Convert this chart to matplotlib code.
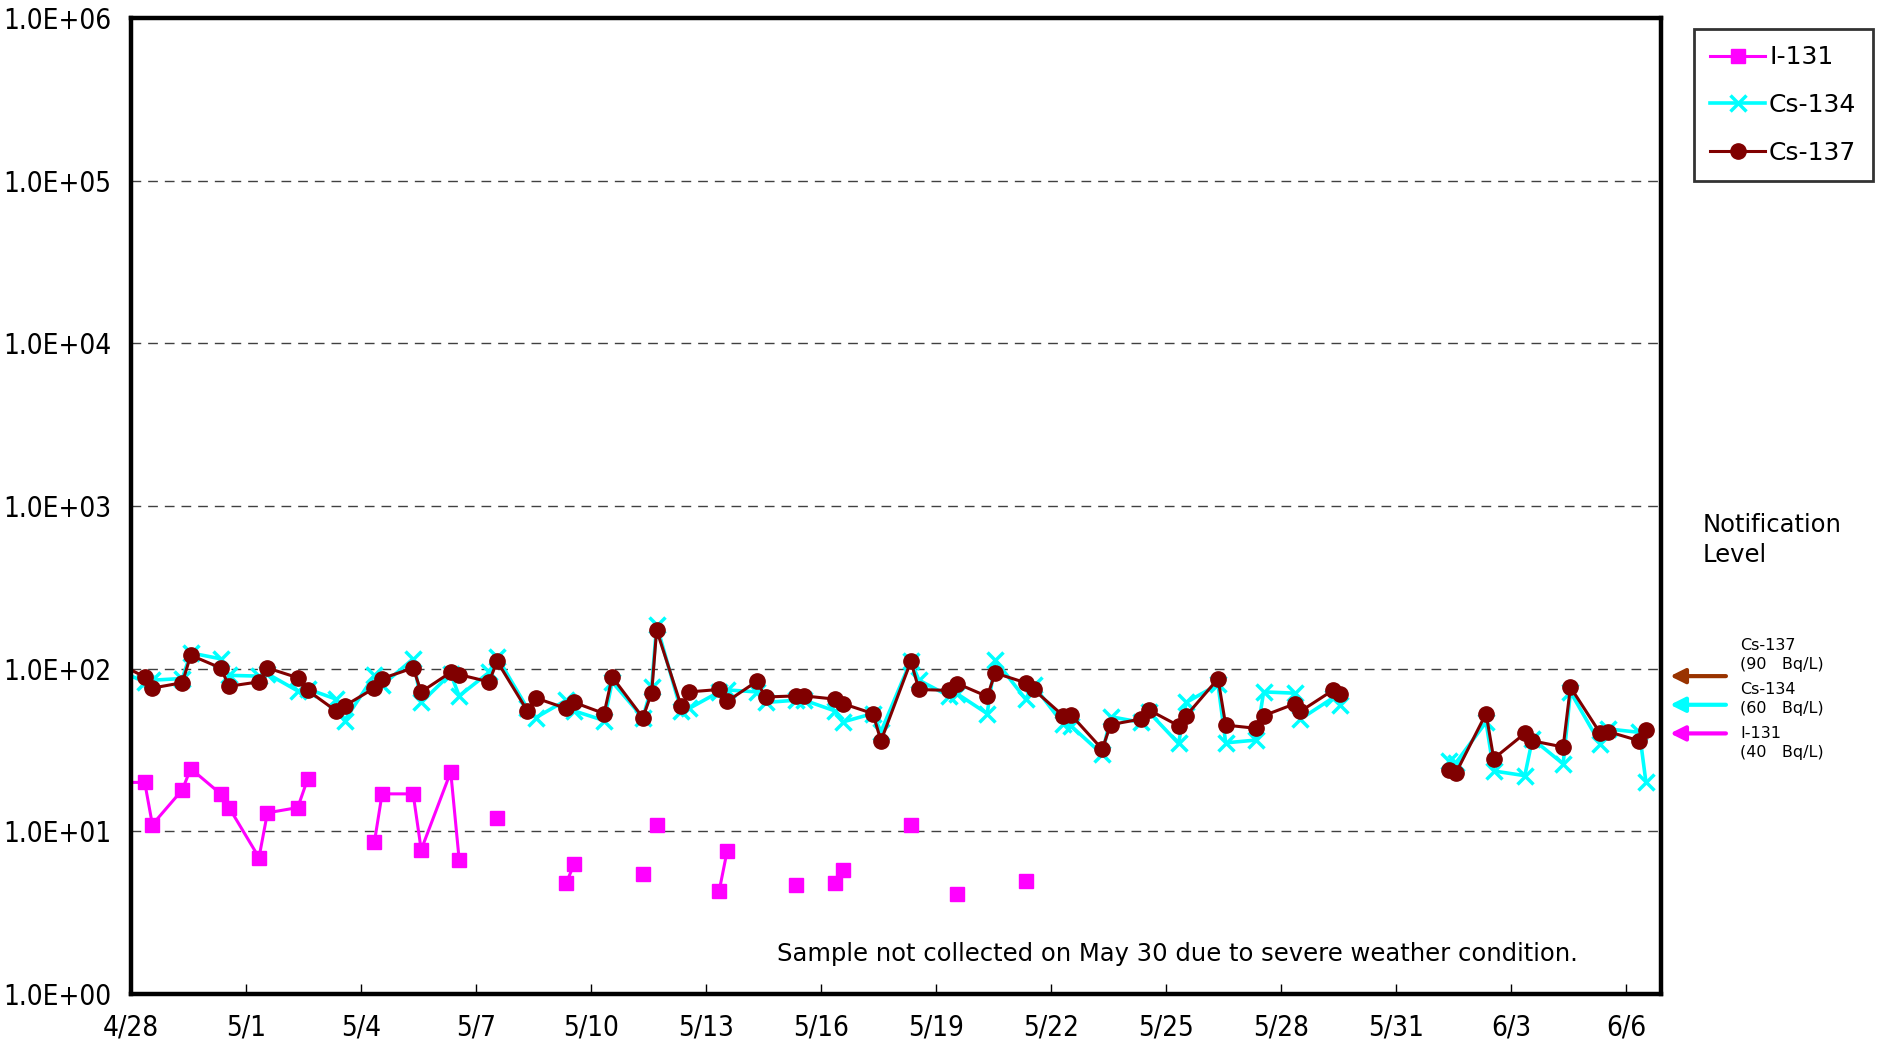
import numpy as np
import matplotlib
matplotlib.use('Agg')
import matplotlib.pyplot as plt
from matplotlib import font_manager
from matplotlib.ticker import NullLocator

# sample times, days after 4/28 (two samples a day, one extra on 5/11)
# the nan row is the gap: sample not collected on 5/30
days = [-0.44,
        0.36, 0.56, 1.34, 1.56, 2.34, 2.56, 3.34, 3.56, 4.35, 4.61, 5.35, 5.57, 6.35, 6.55, 7.36, 7.57,
        8.34, 8.56, 9.34, 9.55, 10.34, 10.56, 11.35, 11.56, 12.34, 12.55, 13.35, 13.58, 13.71,
        14.35, 14.56, 15.34, 15.55,
        16.32, 16.55, 17.34, 17.56, 18.36, 18.56, 19.35, 19.56, 20.34, 20.55, 21.33, 21.55,
        22.33, 22.54, 23.33, 23.54,
        24.31, 24.51, 25.33, 25.55, 26.34, 26.55, 27.32, 27.52, 28.35, 28.55, 29.34, 29.54,
        30.35, 30.50, 31.34, 31.53,
        32.5,
        34.37, 34.56, 35.34, 35.54, 36.35, 36.55, 37.35, 37.54, 38.32, 38.53, 39.34, 39.51]

nan = np.nan
i131 = [20,
        20, 11, 18, 24.3, 17, 14, 6.9, 13, 14, 21, nan, nan, 8.6, 17, 17, 7.7,
        23.2, 6.7, nan, 12.0, nan, nan, 4.8, 6.3, nan, nan, 5.5, nan, 11,
        nan, nan, 4.3, 7.6,
        nan, nan, 4.7, nan, 4.8, 5.8, nan, nan, 11, nan, nan, 4.1,
        nan, nan, 4.95, nan,
        nan, nan, nan, nan, nan, nan, nan, nan, nan, nan, nan, nan,
        nan, nan, nan, nan,
        nan,
        nan, nan, nan, nan, nan, nan, nan, nan, nan, nan, nan, nan]

cs134 = [100,
         83, 85, 87, 125, 115, 91, 90, 93, 73, 75, 65, 48, 91, 79, 115, 62,
         93, 68, 95, 118, 57, 50, 64, 55, 48, 83, 50, 77, 185,
         55, 57, 72, 74,
         72, 62, 64, 64, 55, 47, 53, 41, 112, 85, 68, 70,
         53, 113, 65, 79,
         45.7, 44.6, 29.8, 50.7, 46.8, 54, 34.7, 62, 80, 35, 36.4, 72,
         70.7, 49, 66, 60,
         nan,
         27, 26.5, 47, 23.5, 22, 37, 26, 72, 34.4, 42.6, 40.6, 20]

cs137 = [111,
         89, 76, 82, 121, 101, 78, 83, 101, 88, 73.5, 55, 59, 76, 87, 101, 72,
         95, 92, 83, 111, 55, 66, 57, 62, 53, 89, 50, 71, 173,
         59, 72, 74.5, 63,
         83.5, 67, 68, 68, 65, 61, 53, 36, 111, 74.5, 73.5, 81,
         67.5, 94, 82, 74.5,
         51.4, 52.2, 32, 45.3, 49, 55.7, 44.6, 51.4, 86.7, 45, 43, 51.4,
         60.8, 54.7, 73.5, 70,
         nan,
         24, 23, 53, 28, 40, 36, 33, 77, 40, 41, 36, 42]

tick_days = list(range(0, 40, 3))
tick_labels = ['4/28', '5/1', '5/4', '5/7', '5/10', '5/13', '5/16', '5/19',
               '5/22', '5/25', '5/28', '5/31', '6/3', '6/6']

# notification levels (Bq/L)
levels = [90, 60, 40]
level_names = ['Cs-137', 'Cs-134', 'I-131']
level_colors = ['#993300', '#00FFFF', '#FF00FF']

# narrow font for the axis numbers if one is around
fonts = font_manager.fontManager.ttflist
if any(f.name == 'Liberation Sans Narrow' for f in fonts):
    tick_font = dict(family='Liberation Sans Narrow', fontsize=21)
elif any(f.name == 'DejaVu Sans' and f.stretch == 'condensed' for f in fonts):
    tick_font = dict(family='DejaVu Sans', fontstretch='condensed', fontsize=20)
else:
    tick_font = dict(family='DejaVu Sans', fontsize=18)

fig = plt.figure(figsize=(18.81, 10.47), dpi=100)
ax = fig.add_axes([0.0696, 0.0506, 0.8134, 0.9322])

ax.plot(days, i131, color='#FF00FF', lw=2.2, marker='s', ms=10.5, label='I-131')
ax.plot(days, cs134, color='#00FFFF', lw=2.6, marker='x', ms=11, mew=2.5, label='Cs-134')
ax.plot(days, cs137, color='#800000', lw=2.2, marker='o', ms=11, label='Cs-137')

ax.set_yscale('log')
ax.set_ylim(1, 1e6)
ax.set_xlim(0, 39.9)
ax.set_yticks([10.0 ** k for k in range(7)])
ax.set_yticklabels(['1.0E+%02d' % k for k in range(7)], **tick_font)
ax.yaxis.set_minor_locator(NullLocator())
ax.set_xticks(tick_days)
ax.set_xticklabels(tick_labels, **tick_font)
ax.tick_params(axis='x', direction='in', length=7, width=1, pad=14)
ax.tick_params(axis='y', length=0, pad=14)
ax.yaxis.grid(True, ls=(0, (7, 5)), color='#404040', lw=1)
for s in ax.spines.values():
    s.set_linewidth(3.2)

leg = fig.legend(loc='upper left', bbox_to_anchor=(0.9006, 0.9723), fontsize=18,
                 frameon=True, fancybox=False, edgecolor='black', handlelength=2.2,
                 labelspacing=0.95, borderpad=0.65, handletextpad=0.15, borderaxespad=0)
leg.get_frame().set_linewidth(2)

ax.text(1.027, 0.465, 'Notification\nLevel', transform=ax.transAxes, fontsize=17.5,
        ha='left', va='center', linespacing=1.3)

offsets = [15, 4, -7]
for lv, nm, col, off in zip(levels, level_names, level_colors, offsets):
    ax.annotate('', xy=(1.006, lv), xytext=(1.0425, lv),
                xycoords=('axes fraction', 'data'), annotation_clip=False,
                arrowprops=dict(arrowstyle='-|>', color=col, lw=3, mutation_scale=22,
                                shrinkA=0, shrinkB=0))
    ax.annotate('%s\n(%d   Bq/L)' % (nm, lv), xy=(1.052, lv), xytext=(0, off),
                xycoords=('axes fraction', 'data'), textcoords='offset points',
                fontsize=11.5, ha='left', va='center', linespacing=1.3,
                annotation_clip=False)

ax.text(0.946, 0.041, 'Sample not collected on May 30 due to severe weather condition.',
        transform=ax.transAxes, fontsize=17.5, ha='right', va='center')

fig.savefig('out.png', dpi=100)
